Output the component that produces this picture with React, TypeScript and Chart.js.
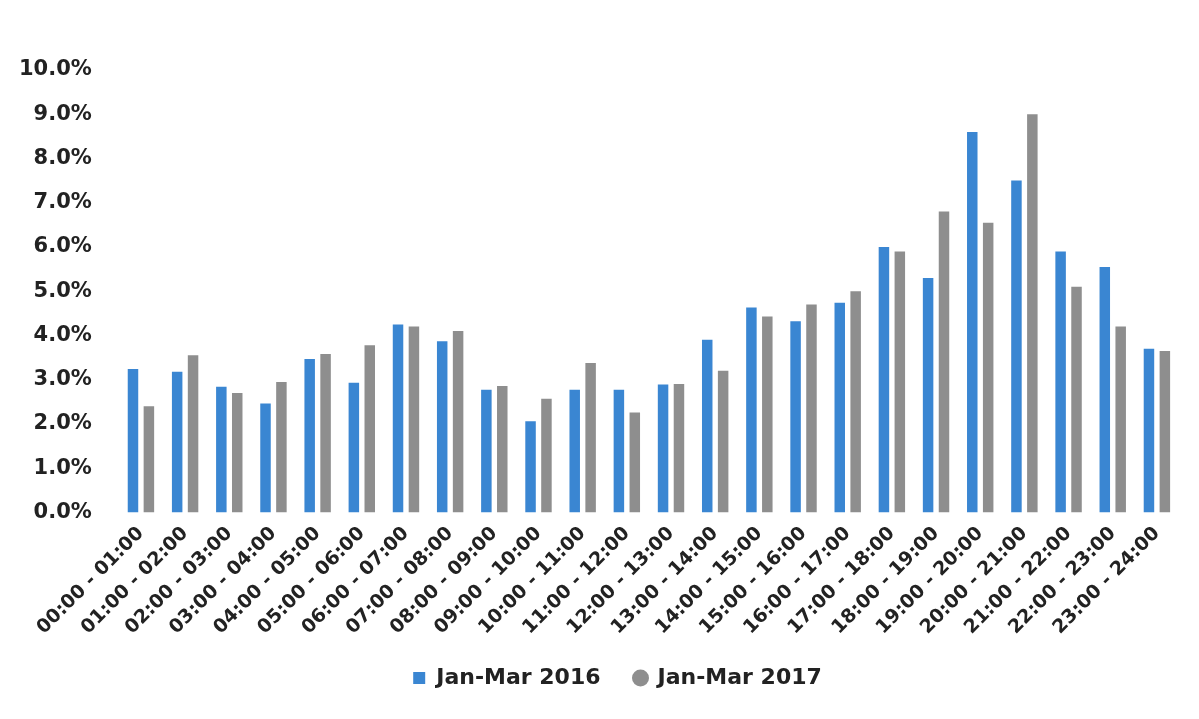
import React, { useEffect, useRef } from "react";
import { Chart, registerables } from "chart.js";

Chart.register(...registerables);

const categories = [
  "00:00 - 01:00", "01:00 - 02:00", "02:00 - 03:00", "03:00 - 04:00",
  "04:00 - 05:00", "05:00 - 06:00", "06:00 - 07:00", "07:00 - 08:00",
  "08:00 - 09:00", "09:00 - 10:00", "10:00 - 11:00", "11:00 - 12:00",
  "12:00 - 13:00", "13:00 - 14:00", "14:00 - 15:00", "15:00 - 16:00",
  "16:00 - 17:00", "17:00 - 18:00", "18:00 - 19:00", "19:00 - 20:00",
  "20:00 - 21:00", "21:00 - 22:00", "22:00 - 23:00", "23:00 - 24:00",
];

const series2016 = [
  3.24, 3.18, 2.84, 2.46, 3.47, 2.93, 4.25, 3.87, 2.77, 2.06, 2.77, 2.77,
  2.89, 3.9, 4.63, 4.32, 4.74, 6.0, 5.3, 8.6, 7.5, 5.9, 5.55, 3.7,
];

const series2017 = [
  2.4, 3.55, 2.7, 2.95, 3.58, 3.78, 4.2, 4.1, 2.86, 2.57, 3.38, 2.26,
  2.9, 3.2, 4.43, 4.7, 5.0, 5.9, 6.8, 6.55, 9.0, 5.1, 4.2, 3.65,
];

const seriesNames = ["Jan-Mar 2016", "Jan-Mar 2017"];

export default function App() {
  const canvasRef = useRef<HTMLCanvasElement | null>(null);

  useEffect(() => {
    document.body.style.margin = "0";
    const ctx = canvasRef.current;
    if (!ctx) return;
    const font = "DejaVu Sans, sans-serif";
    const legendShift = {
      id: "legendShift",
      afterInit(chart: any) {
        const legend = chart.legend;
        if (!legend || legend.__shifted) return;
        const orig = legend.draw.bind(legend);
        legend.draw = function () {
          const c = chart.ctx;
          c.save();
          c.translate(28, -8);
          orig();
          c.restore();
        };
        legend.__shifted = true;
      },
    };
    const chart = new Chart(ctx, {
      type: "bar",
      data: {
        labels: categories,
        datasets: [
          {
            label: seriesNames[0],
            data: series2016,
            backgroundColor: "#3a86d2",
            borderWidth: 0,
            pointStyle: "rect",
          },
          {
            label: seriesNames[1],
            data: series2017,
            backgroundColor: "#8e8e8e",
            borderWidth: 0,
            pointStyle: "circle",
          },
        ],
      },
      plugins: [legendShift],
      options: {
        animation: false,
        responsive: true,
        maintainAspectRatio: false,
        datasets: { bar: { categoryPercentage: 0.72, barPercentage: 0.66 } },
        layout: {
          autoPadding: false,
          padding: { top: 70, right: 20, left: 0, bottom: 12 },
        },
        plugins: {
          legend: {
            position: "bottom",
            labels: {
              usePointStyle: true,
              boxWidth: 12,
              boxHeight: 12,
              padding: 34,
              color: "#222222",
              font: { family: font, size: 22, weight: "bold" },
            },
          },
          tooltip: { enabled: false },
        },
        scales: {
          x: {
            grid: { display: false },
            border: { display: false },
            afterFit: (scale: any) => {
              scale.paddingLeft = 0;
              scale.paddingRight = 0;
            },
            ticks: {
              color: "#222222",
              maxRotation: 45,
              minRotation: 45,
              autoSkip: false,
              padding: 2,
              font: { family: font, size: 19, weight: "bold" },
            },
          },
          y: {
            min: 0,
            max: 10,
            grid: { display: false },
            border: { display: false },
            ticks: {
              stepSize: 1,
              color: "#222222",
              padding: 19,
              font: { family: font, size: 21, weight: "bold" },
              callback: (v: any) => Number(v).toFixed(1) + "%",
            },
          },
        },
      },
    });
    return () => chart.destroy();
  }, []);

  return (
    <div style={{ width: 1199, height: 719, background: "#ffffff" }}>
      <canvas ref={canvasRef} />
    </div>
  );
}
